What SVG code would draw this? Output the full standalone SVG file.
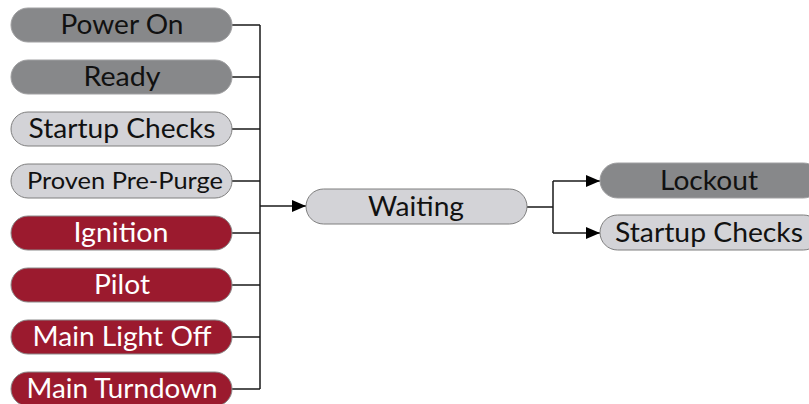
<svg xmlns="http://www.w3.org/2000/svg" width="809" height="404" viewBox="0 0 809 404">
<defs>
<style>
.dk{fill:#87888a;stroke:#a0a0a2;stroke-width:1}
.lt{fill:#d3d3d7;stroke:#7f7f7f;stroke-width:1}
.rd{fill:#9b1a2e;stroke:#8a8a8a;stroke-width:1}
text{font-family:Lato,"Noto Sans",sans-serif;font-size:27px;text-anchor:middle}
.bt{fill:#111}
.wt{fill:#fff}
.c{fill:none;stroke:#1a1a1a;stroke-width:1.5}
</style>
<marker id="ah" markerWidth="14" markerHeight="12" refX="14" refY="6" orient="auto" markerUnits="userSpaceOnUse">
<path d="M0,0 L14,6 L0,12 Z" fill="#000"/>
</marker>
</defs>
<g id="connectors">
<path class="c" d="M232,25 H260 M232,77 H260 M232,129 H260 M232,181 H260 M232,233 H260 M232,285 H260 M232,337 H260 M232,389 H260 M260,25 V389"/>
<path class="c" d="M260,206 H306" marker-end="url(#ah)"/>
<path class="c" d="M527,207 H553 M553,181 V233"/>
<path class="c" d="M553,181 H600" marker-end="url(#ah)"/>
<path class="c" d="M553,233 H600" marker-end="url(#ah)"/>
</g>
<g id="n-poweron"><rect class="dk" x="11" y="8" width="221" height="34" rx="17"/><text class="bt" x="122" y="34" textLength="123" lengthAdjust="spacingAndGlyphs">Power On</text></g>
<g id="n-ready"><rect class="dk" x="11" y="60" width="221" height="34" rx="17"/><text class="bt" x="122" y="86" textLength="77" lengthAdjust="spacingAndGlyphs">Ready</text></g>
<g id="n-startup"><rect class="lt" x="11" y="112" width="221" height="34" rx="17"/><text class="bt" x="122" y="138" textLength="187" lengthAdjust="spacingAndGlyphs">Startup Checks</text></g>
<g id="n-prepurge"><rect class="lt" x="11" y="164" width="221" height="34" rx="17"/><text class="bt" x="125" y="189" style="font-size:23px" textLength="196" lengthAdjust="spacingAndGlyphs">Proven Pre-Purge</text></g>
<g id="n-ignition"><rect class="rd" x="11" y="216" width="221" height="34" rx="17"/><text class="wt" x="121" y="242" textLength="95" lengthAdjust="spacingAndGlyphs">Ignition</text></g>
<g id="n-pilot"><rect class="rd" x="11" y="268" width="221" height="34" rx="17"/><text class="wt" x="122" y="294" textLength="56" lengthAdjust="spacingAndGlyphs">Pilot</text></g>
<g id="n-mainlight"><rect class="rd" x="11" y="320" width="221" height="34" rx="17"/><text class="wt" x="122" y="346" textLength="179" lengthAdjust="spacingAndGlyphs">Main Light Off</text></g>
<g id="n-turndown"><rect class="rd" x="11" y="372" width="221" height="34" rx="17"/><text class="wt" x="122" y="398" textLength="191" lengthAdjust="spacingAndGlyphs">Main Turndown</text></g>
<g id="n-waiting"><rect class="lt" x="306" y="189" width="221" height="35" rx="17.5"/><text class="bt" x="416" y="216" textLength="96" lengthAdjust="spacingAndGlyphs">Waiting</text></g>
<g id="n-lockout"><rect class="dk" x="600" y="163" width="221" height="35" rx="17.5"/><text class="bt" x="709" y="190" textLength="98" lengthAdjust="spacingAndGlyphs">Lockout</text></g>
<g id="n-startup2"><rect class="lt" x="600" y="215" width="221" height="35" rx="17.5"/><text class="bt" x="709" y="242" textLength="188" lengthAdjust="spacingAndGlyphs">Startup Checks</text></g>
</svg>
